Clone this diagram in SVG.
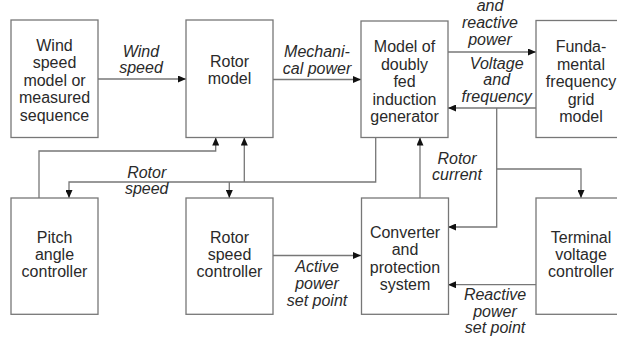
<svg xmlns="http://www.w3.org/2000/svg" width="617" height="346" viewBox="0 0 617 346">
<defs>
<marker id="ah" markerWidth="8" markerHeight="7" refX="8" refY="3.5" orient="auto" markerUnits="userSpaceOnUse">
<path d="M0,0 L8,3.5 L0,7 z" fill="#111"/>
</marker>
<style>
.box{fill:#fff;stroke:#777;stroke-width:1.3}
.t{font-family:"Liberation Sans",Arial,sans-serif;font-size:16px;fill:#2a2a2a;text-anchor:middle}
.l{font-family:"Liberation Sans",Arial,sans-serif;font-size:16px;font-style:italic;fill:#2a2a2a;text-anchor:middle}
.c{fill:none;stroke:#777;stroke-width:1.3}
.a{marker-end:url(#ah)}
</style>
</defs>
<rect width="617" height="346" fill="#fff"/>
<g id="connectors">
<path class="c a" d="M98,79 H186"/>
<path class="c a" d="M273,79.5 H361"/>
<path class="c a" d="M448,52 H536"/>
<path class="c a" d="M536,108 H448"/>
<path class="c a" d="M496.7,108 V227 H448"/>
<path class="c a" d="M496.7,169 H581 V198"/>
<path class="c a" d="M420,198 V137.5"/>
<path class="c a" d="M375.7,137.5 V182 H69 V198"/>
<path class="c a" d="M244.3,182 V137.5"/>
<path class="c a" d="M229.3,182 V198"/>
<path class="c a" d="M39,198 V151 H215.7 V137.5"/>
<path class="c a" d="M273,255.5 H361"/>
<path class="c a" d="M536,284.7 H448"/>
<text class="l" x="141" y="57">Wind</text>
<text class="l" x="141" y="73">speed</text>
<text class="l" x="317" y="57">Mechani-</text>
<text class="l" x="317" y="74">cal power</text>
<text class="l" x="490" y="11">and</text>
<text class="l" x="490" y="28">reactive</text>
<text class="l" x="490" y="45">power</text>
<text class="l" x="496.7" y="68.5">Voltage</text>
<text class="l" x="496.7" y="85">and</text>
<text class="l" x="496.7" y="101.5">frequency</text>
<text class="l" x="457" y="163.5">Rotor</text>
<text class="l" x="457" y="180">current</text>
<text class="l" x="146.7" y="178">Rotor</text>
<text class="l" x="146.7" y="194">speed</text>
<text class="l" x="317" y="271.5">Active</text>
<text class="l" x="317" y="288.5">power</text>
<text class="l" x="317" y="305.5">set point</text>
<text class="l" x="495" y="300">Reactive</text>
<text class="l" x="495" y="316.5">power</text>
<text class="l" x="495" y="333">set point</text>
</g>
<g id="wind">
<rect class="box" x="11" y="20" width="87" height="117.5"/>
<text class="t" x="54.5" y="50.5">Wind</text>
<text class="t" x="54.5" y="68">speed</text>
<text class="t" x="54.5" y="85.5">model or</text>
<text class="t" x="54.5" y="103">measured</text>
<text class="t" x="54.5" y="120.5">sequence</text>
</g>
<g id="rotor">
<rect class="box" x="186" y="20" width="87" height="117.5"/>
<text class="t" x="229.5" y="67">Rotor</text>
<text class="t" x="229.5" y="84">model</text>
</g>
<g id="dfig">
<rect class="box" x="361" y="21" width="87" height="116.5"/>
<text class="t" x="404.5" y="52">Model of</text>
<text class="t" x="404.5" y="69.5">doubly</text>
<text class="t" x="404.5" y="87">fed</text>
<text class="t" x="404.5" y="104.5">induction</text>
<text class="t" x="404.5" y="122">generator</text>
</g>
<g id="grid">
<rect class="box" x="536" y="20.5" width="87" height="117"/>
<text class="t" x="581" y="52">Funda-</text>
<text class="t" x="581" y="69.5">mental</text>
<text class="t" x="581" y="87">frequency</text>
<text class="t" x="581" y="104.5">grid</text>
<text class="t" x="581" y="122">model</text>
</g>
<g id="pitch">
<rect class="box" x="11" y="198" width="87" height="116.3"/>
<text class="t" x="54.5" y="243">Pitch</text>
<text class="t" x="54.5" y="260">angle</text>
<text class="t" x="54.5" y="277">controller</text>
</g>
<g id="speedctrl">
<rect class="box" x="186" y="198" width="87" height="116.3"/>
<text class="t" x="229.5" y="243">Rotor</text>
<text class="t" x="229.5" y="260">speed</text>
<text class="t" x="229.5" y="277">controller</text>
</g>
<g id="converter">
<rect class="box" x="361.5" y="198" width="87" height="116.3"/>
<text class="t" x="405" y="237.5">Converter</text>
<text class="t" x="405" y="255">and</text>
<text class="t" x="405" y="272.5">protection</text>
<text class="t" x="405" y="290">system</text>
</g>
<g id="terminal">
<rect class="box" x="536" y="198" width="87" height="116.3"/>
<text class="t" x="581" y="243">Terminal</text>
<text class="t" x="581" y="260">voltage</text>
<text class="t" x="581" y="277">controller</text>
</g>
</svg>
